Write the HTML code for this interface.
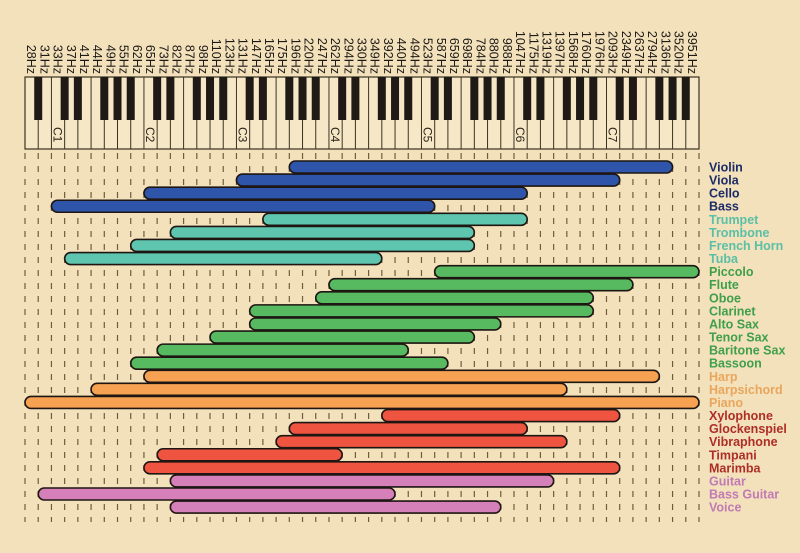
<!DOCTYPE html>
<html><head><meta charset="utf-8"><style>
html,body{margin:0;padding:0;background:#f3e1bc;}
svg{display:block;font-family:"Liberation Sans",sans-serif;}
</style></head><body>
<svg id="chart" width="800" height="553" viewBox="0 0 800 553" xmlns="http://www.w3.org/2000/svg">
<rect width="800" height="553" fill="#f3e1bc"/>
<g id="grid"></g><g id="keys"></g><g id="labels"></g><g id="bars"></g><g id="names"></g>
</svg>
<script>
const freqLabels = ["28Hz","31Hz","33Hz","37Hz","41Hz","44Hz","49Hz","55Hz","62Hz","65Hz","73Hz","82Hz","87Hz","98Hz","110Hz","123Hz","131Hz","147Hz","165Hz","175Hz","196Hz","220Hz","247Hz","262Hz","294Hz","330Hz","349Hz","392Hz","440Hz","494Hz","523Hz","587Hz","659Hz","698Hz","784Hz","880Hz","988Hz","1047Hz","1175Hz","1319Hz","1397Hz","1568Hz","1760Hz","1976Hz","2093Hz","2349Hz","2637Hz","2794Hz","3136Hz","3520Hz","3951Hz"];
const instruments = ["Violin","Viola","Cello","Bass","Trumpet","Trombone","French Horn","Tuba","Piccolo","Flute","Oboe","Clarinet","Alto Sax","Tenor Sax","Baritone Sax","Bassoon","Harp","Harpsichord","Piano","Xylophone","Glockenspiel","Vibraphone","Timpani","Marimba","Guitar","Bass Guitar","Voice"];
const lowKey  = [20,16,9,2,18,11,8,3,31,23,22,17,17,14,10,8,9,5,0,27,20,19,10,9,11,1,11];
const highKey = [49,45,38,31,38,34,34,27,51,46,43,43,36,34,29,32,48,41,51,45,38,41,24,45,40,28,36];
const family  = ["str","str","str","str","brass","brass","brass","brass","wind","wind","wind","wind","wind","wind","wind","wind","key","key","key","perc","perc","perc","perc","perc","pl","pl","pl"];
const fillCol = {str:"#2f55aa",brass:"#5ec5ae",wind:"#57b960",key:"#f7a253",perc:"#ef5441",pl:"#d680ba"};
const textCol = {str:"#1b2c66",brass:"#5bbfa5",wind:"#3f9f4b",key:"#e9a65c",perc:"#ad2e26",pl:"#c27ab3"};

const NS="http://www.w3.org/2000/svg";
const X0=25, X1=699, NK=freqLabels.length, KW=(X1-X0)/NK;
const xB = i => X0 + i*KW;
const ROW0=167, ROWH=13.08;
const yR = i => ROW0 + i*ROWH;
function mk(tag, parent, attrs){const e=document.createElementNS(NS,tag);for(const k in attrs)e.setAttribute(k,attrs[k]);parent.appendChild(e);return e;}

const grid=document.getElementById('grid');
for(let i=0;i<=NK;i++){
  const l=mk('line',grid,{x1:xB(i),x2:xB(i),y1:153,y2:522,stroke:"#6f5c3c","stroke-width":1.2,"stroke-dasharray":"6,7"});
  
  
}
const keys=document.getElementById('keys');
const kb=mk('rect',keys,{x:X0,y:77,width:X1-X0,height:72,fill:"#f6e7c6",stroke:"#3a3222","stroke-width":1.2});


const letters="ABCDEFG";
for(let i=1;i<NK;i++){
  const l=mk('line',keys,{x1:xB(i),x2:xB(i),y1:77,y2:149,stroke:"#3a3222","stroke-width":1});
  
  
}
for(let i=0;i<NK-1;i++){
  const L=letters[i%7];
  if("ACDFG".includes(L)){
    const b=mk('rect',keys,{x:xB(i+1)-4,y:77,width:8,height:43,fill:"#1f1a16"});
    
    
  }
  if(L==="C"){
    const oct=Math.floor((i+5)/7);
    const t=mk('text',keys,{x:0,y:0,"font-size":12,fill:"#2a2418",transform:`translate(${xB(i)+KW/2-4.5},127) rotate(90)`});
    t.textContent="C"+oct;
    
    
  }
}
const labels=document.getElementById('labels');
freqLabels.forEach((f,i)=>{
  const t=mk('text',labels,{x:0,y:0,"font-size":12.5,fill:"#1d1a16","text-anchor":"end",transform:`translate(${xB(i)+KW/2-4.5},74) rotate(90)`});
  t.textContent=f;
  
  
});
const bars=document.getElementById('bars'), names=document.getElementById('names');
instruments.forEach((n,i)=>{
  const y=yR(i);
  const r=mk('rect',bars,{x:xB(lowKey[i]),y:y-6,width:xB(highKey[i])-xB(lowKey[i]),height:12,rx:6,ry:6,fill:fillCol[family[i]],stroke:"#1e1612","stroke-width":1.6});
  
  
  const t=mk('text',names,{x:709,y:y+4.5,"font-size":12.5,"font-weight":"bold",fill:textCol[family[i]]});
  t.textContent=n;
  
  
});
</script>
</body></html>
